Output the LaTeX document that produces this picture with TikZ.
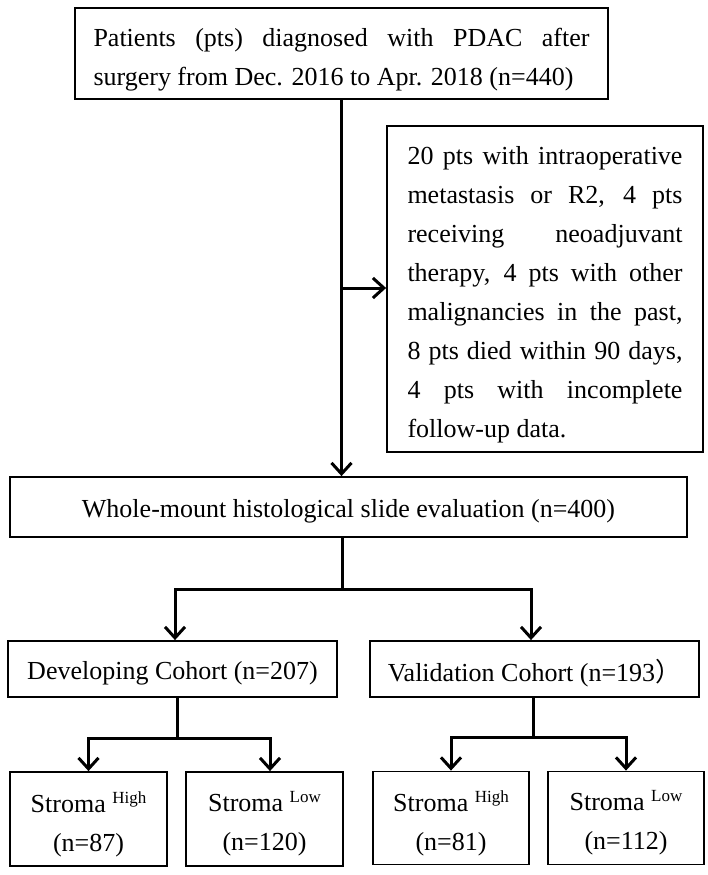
\documentclass[tikz,border=0pt]{standalone}
\usepackage{fontspec}
\setmainfont{Liberation Serif}
\newfontfamily\cjk{Noto Sans CJK SC}
\usetikzlibrary{arrows.meta}
\newcommand{\fsmain}{\fontsize{26}{39}\selectfont}
\newcommand{\supr}[1]{\raisebox{9pt}{\fontsize{17}{17}\selectfont #1}}
\begin{document}
\begin{tikzpicture}[x=1pt,y=-1pt,
  box/.style={draw, line width=1.8pt, inner sep=0pt},
  lbl/.style={inner sep=0pt, align=center, font=\fsmain},
  conn/.style={line width=3pt},
  arr/.style={conn, -{Straight Barb[length=11pt,width=20pt]}}]
\useasboundingbox (0,0) rectangle (708,875);
\fill[white] (0,0) rectangle (708,875);

\node[box, minimum width=533, minimum height=91] (top) at (341.5,53.5) {};
\node[lbl, text width=496, align=justify] (toptxt) at ([yshift=-6pt]top.center)
  {Patients (pts) diagnosed with PDAC after\linebreak surgery from Dec. 2016 to Apr. 2018 (n=440)};

\node[box, minimum width=316, minimum height=326] (ex) at (545,289) {};
\node[lbl, text width=275, align=justify] (extxt) at ([yshift=-6pt]ex.center)
  {20 pts with intraoperative\linebreak metastasis or R2, 4 pts\linebreak receiving neoadjuvant\linebreak therapy, 4 pts with other\linebreak malignancies in the past,\linebreak 8 pts died within 90 days,\linebreak 4 pts with incomplete\linebreak follow-up data.};

\node[box, minimum width=677, minimum height=60] (wm) at (348.5,507) {};
\node[lbl] (wmtxt) at ([yshift=-4pt]wm.center)
  {Whole-mount histological slide evaluation (n=400)};

\node[box, minimum width=329, minimum height=56] (dev) at (172.5,669) {};
\node[lbl] (devtxt) at ([yshift=-4pt]dev.center) {Developing Cohort (n=207)};
\node[box, minimum width=329, minimum height=56] (val) at (534.5,669) {};
\node[lbl] (valtxt) at ([yshift=-4pt]val.center) {Validation Cohort (n=193{\cjk ）}};

\node[box, minimum width=157, minimum height=94] (s1) at (88.5,819) {};
\node[lbl] (s1txt) at ([yshift=-5pt]s1.center) {Stroma \supr{High}\\(n=87)};
\node[box, minimum width=157, minimum height=94] (s2) at (264.5,819) {};
\node[lbl] (s2txt) at ([yshift=-5pt]s2.center) {Stroma \supr{Low}\\(n=120)};
\node[box, minimum width=156, minimum height=93] (s3) at (451,818) {};
\node[lbl] (s3txt) at ([yshift=-5pt]s3.center) {Stroma \supr{High}\\(n=81)};
\node[box, minimum width=156, minimum height=93] (s4) at (626,818) {};
\node[lbl] (s4txt) at ([yshift=-5pt]s4.center) {Stroma \supr{Low}\\(n=112)};

% top to whole-mount
\draw[arr] (top.south) -- (top.south |- wm.north);
\coordinate (bx) at (341.5,288);
\draw[arr] (bx) -- (bx -| ex.west);

% whole-mount split
\coordinate (j1) at (342,589);
\draw[conn] (j1 |- wm.south) -- (j1);
\draw[arr] (j1) -| ([xshift=2.5pt]dev.north);
\draw[arr] (j1) -| ([xshift=-3.5pt]val.north);

% developing split
\coordinate (j2) at (177,738);
\draw[conn] (j2 |- dev.south) -- (j2);
\draw[arr] (j2) -| (s1.north);
\draw[arr] (j2) -| ([xshift=5.5pt]s2.north);

% validation split
\coordinate (j3) at (533,737);
\draw[conn] (j3 |- val.south) -- (j3);
\draw[arr] (j3) -| (s3.north);
\draw[arr] (j3) -| (s4.north);
\end{tikzpicture}
\end{document}
